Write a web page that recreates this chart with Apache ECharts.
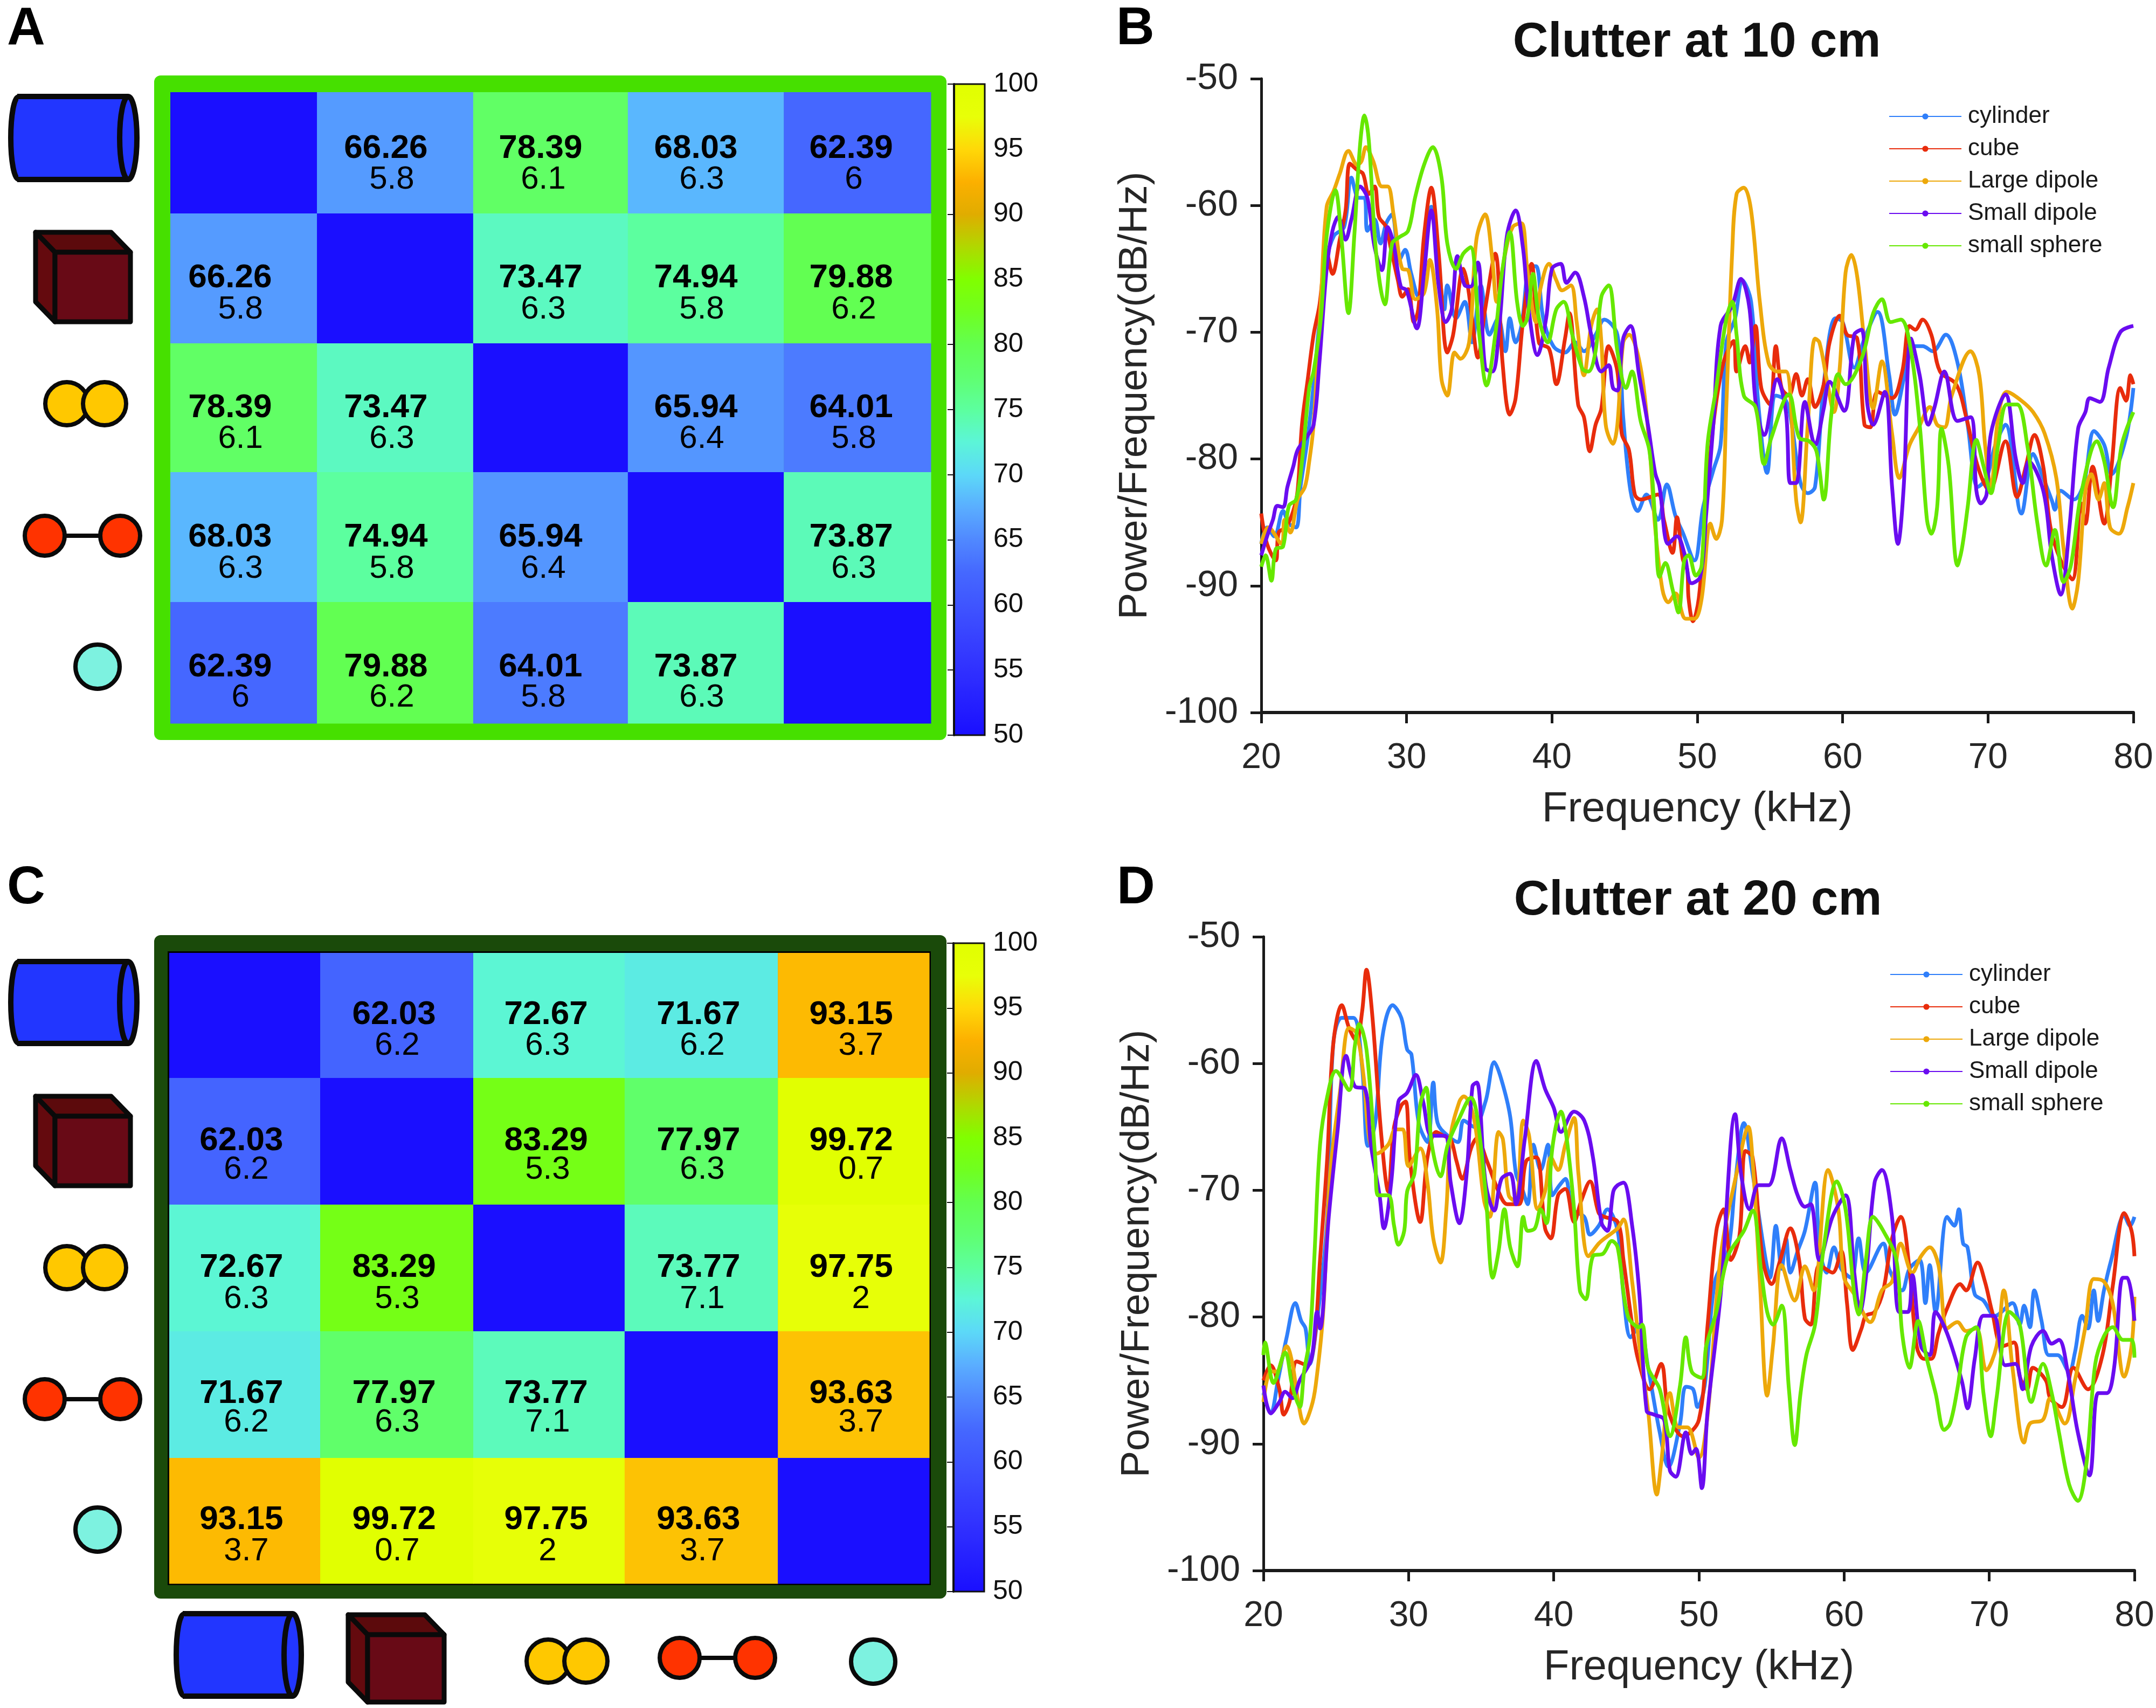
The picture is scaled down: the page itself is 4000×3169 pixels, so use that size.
<!DOCTYPE html>
<html>
<head>
<meta charset="utf-8">
<style>html,body{margin:0;padding:0;background:#fff}#chart{width:4000px;height:3169px}</style>
<script src="https://cdn.jsdelivr.net/npm/echarts@6/dist/echarts.min.js"></script>
</head>
<body>
<div id="chart"></div>
<script>
// ---------- data ----------
const seriesNames = ['cylinder','cube','Large dipole','Small dipole','small sphere'];
const seriesColors = ['#2f7ffa','#e82c0c','#eda80a','#6a0cf0','#66e800'];
const diagonalValue = 50;

const meanA = [
 [null,66.26,78.39,68.03,62.39],
 [66.26,null,73.47,74.94,79.88],
 [78.39,73.47,null,65.94,64.01],
 [68.03,74.94,65.94,null,73.87],
 [62.39,79.88,64.01,73.87,null]];
const sdA = [
 [null,5.8,6.1,6.3,6],
 [5.8,null,6.3,5.8,6.2],
 [6.1,6.3,null,6.4,5.8],
 [6.3,5.8,6.4,null,6.3],
 [6,6.2,5.8,6.3,null]];
const meanC = [
 [null,62.03,72.67,71.67,93.15],
 [62.03,null,83.29,77.97,99.72],
 [72.67,83.29,null,73.77,97.75],
 [71.67,77.97,73.77,null,93.63],
 [93.15,99.72,97.75,93.63,null]];
const sdC = [
 [null,6.2,6.3,6.2,3.7],
 [6.2,null,5.3,6.3,0.7],
 [6.3,5.3,null,7.1,2],
 [6.2,6.3,7.1,null,3.7],
 [3.7,0.7,2,3.7,null]];

const b_cylinder = [[20,-86.7],[20.4,-85.4],[20.9,-86.1],[21.5,-84.1],[21.9,-85.1],[22.4,-85.4],[22.7,-82.2],[23.2,-78.3],[23.6,-74.1],[24,-69.2],[24.5,-64.3],[25,-62.4],[25.7,-61.7],[26.2,-57.8],[26.7,-59.4],[27.1,-59.4],[27.3,-62],[27.8,-61.1],[28.2,-63],[28.6,-61.4],[29,-60.7],[29.5,-64.3],[29.9,-63.5],[30.3,-65.3],[30.8,-67.2],[31.2,-64.3],[31.7,-60.1],[32.2,-64.6],[32.6,-68.2],[32.8,-66.3],[33.4,-68.9],[34,-67.6],[34.5,-70.8],[35.1,-66.3],[35.7,-70.2],[36.3,-68.9],[36.8,-71.5],[37.1,-68.9],[37.5,-70.8],[37.9,-69.5],[38.5,-64.8],[38.9,-64.8],[39.4,-68.9],[40.1,-71.1],[40.9,-71.6],[41.6,-70.8],[42.2,-71.5],[43,-70.2],[43.6,-69],[44.5,-70.2],[44.9,-76.7],[45.4,-82.5],[45.9,-84.1],[46.5,-82.8],[47.3,-84.8],[47.9,-82],[48.5,-84.5],[49,-85.8],[49.8,-88],[50.4,-83.8],[51.1,-80.9],[51.6,-78.9],[52,-70.8],[52.6,-68.9],[53.1,-65.9],[53.7,-67.6],[54.2,-75.7],[54.8,-81.1],[55.4,-75],[56.1,-75.4],[56.5,-77.3],[57.1,-81.9],[57.6,-82.7],[58.1,-82.2],[58.7,-74.1],[59.5,-68.9],[60,-69.2],[60.8,-72.8],[61.5,-70.5],[62.4,-68.4],[63.2,-73.4],[63.6,-76.5],[64.2,-73.7],[64.7,-71.1],[65.5,-71.1],[66.2,-71.5],[67.1,-70.2],[67.9,-72.4],[68.6,-77.3],[69.3,-82.2],[69.9,-81.5],[70.5,-78.9],[71.2,-77.3],[72.3,-84.3],[73.1,-79.6],[73.7,-81.2],[74.4,-83.3],[74.6,-84],[75,-82.5],[75.9,-83.2],[76.6,-81.9],[77.3,-77.8],[78,-78.9],[78.5,-81.2],[79.5,-78.3],[80,-74.4]];
const b_cube = [[20,-84.3],[20.4,-86.7],[21,-88],[21.2,-85.8],[21.7,-85.4],[22.2,-84.1],[22.5,-82.5],[22.8,-77.3],[23.2,-73.7],[23.6,-70.2],[24,-67.9],[24.5,-63.7],[24.9,-65.4],[25.4,-62.7],[25.8,-60.4],[26.1,-56.7],[26.6,-57.2],[27,-57.5],[27.4,-59.1],[27.8,-58.5],[28.1,-60.9],[28.6,-61.7],[28.9,-63.3],[29.4,-65.9],[29.7,-67.2],[30.1,-66.6],[30.5,-69.2],[30.8,-68.2],[31.2,-62.4],[31.7,-58.6],[32.2,-63.7],[32.8,-71.6],[33.2,-70.2],[33.9,-65],[34.2,-66.3],[34.5,-68.9],[34.9,-72],[35.4,-68.2],[36.1,-63.8],[36.6,-72.4],[37.1,-76.5],[37.5,-75.2],[38,-69.2],[38.6,-64.6],[39.1,-70.8],[39.8,-71.3],[40.3,-74.1],[40.9,-70.5],[41.2,-68.5],[41.8,-75.7],[42.2,-76.7],[42.6,-79.4],[43,-77.3],[43.4,-76],[43.9,-71.1],[44.5,-73.1],[44.8,-78],[45.3,-79.3],[45.7,-82.8],[46.1,-83.2],[47.3,-82.8],[47.7,-84.8],[48.3,-87.4],[48.6,-84.6],[49,-87.9],[49.3,-88.7],[49.4,-91],[49.7,-92.8],[50.1,-91],[50.5,-85.4],[51.1,-77.3],[51.8,-72.4],[52.5,-70.7],[52.7,-73.1],[53.3,-71.1],[53.6,-72.4],[54,-69.5],[54.4,-74.4],[55,-75.7],[55.4,-71.1],[55.8,-74.4],[56.3,-75],[56.8,-73.3],[57.2,-75],[57.6,-73.7],[58.1,-75.9],[58.7,-74.1],[59.1,-70.8],[59.8,-68.7],[60.3,-70.2],[61,-70.5],[61.5,-77.3],[61.9,-77.5],[62.4,-74.7],[63.4,-75.2],[64.1,-73.1],[64.6,-69.5],[65,-69.8],[65.5,-69],[66.1,-70.2],[66.7,-73.1],[67.8,-74.1],[68.5,-76.7],[69.3,-80.6],[70.1,-82.5],[71.2,-78.6],[72,-83],[72.6,-80.6],[73.2,-78.1],[73.8,-80.6],[74.3,-85.4],[75,-88],[75.8,-89.5],[76.4,-83.5],[76.7,-85.1],[77.2,-80.6],[78,-85.1],[78.5,-80.6],[79.1,-74.4],[79.5,-75.4],[79.8,-73.4],[80,-74.1]];
const b_large = [[20,-86.7],[20.5,-85.4],[21.4,-86.7],[21.6,-84.8],[22,-85.8],[22.5,-83.2],[23,-82.2],[23.3,-80.2],[23.6,-77.3],[24.1,-67.6],[24.5,-60.1],[25,-58.8],[25.4,-57.5],[26,-55.7],[26.6,-56.8],[26.9,-56.5],[27.2,-55.4],[27.7,-56.5],[28.3,-58.5],[28.7,-58.5],[29.1,-60.7],[29.7,-65],[30.1,-65.1],[30.6,-67.4],[31.2,-66.9],[31.6,-64.3],[32.1,-68.2],[32.4,-73.7],[32.8,-75],[33.3,-71.6],[33.7,-72.1],[34.3,-70.8],[34.8,-62.7],[35.4,-60.7],[35.9,-64.3],[36.2,-67.6],[36.8,-63.7],[37.3,-61.7],[37.9,-61.4],[38.3,-65],[38.9,-69.2],[39.2,-66.6],[39.8,-64.6],[40.3,-65.9],[40.7,-66.7],[41.3,-66.3],[41.7,-69.2],[42.2,-73.4],[42.7,-69.5],[43.1,-68.2],[43.4,-70.8],[43.7,-77.3],[44.2,-78.8],[44.5,-77.3],[44.9,-70.8],[45.3,-70.2],[46.1,-72.8],[46.7,-78.9],[47.1,-85.4],[47.6,-90.3],[48,-91.3],[48.5,-90.6],[49.2,-92.6],[49.8,-92.6],[50.3,-91],[50.9,-85.1],[51.3,-86.3],[51.7,-84.8],[52,-75.7],[52.4,-63.7],[52.7,-59.1],[53.2,-58.6],[53.7,-60.4],[54.3,-67.6],[54.9,-72.4],[55.5,-73.1],[56.1,-73.1],[56.8,-83.2],[57.1,-85],[57.6,-77.3],[58.1,-70.5],[58.4,-70.8],[58.9,-73.7],[59.4,-76.3],[59.8,-72.8],[60.2,-65.3],[60.6,-63.9],[61,-65.6],[61.5,-70.8],[62.1,-76],[62.7,-72.3],[63.4,-78],[63.9,-81.5],[64.6,-78.9],[65.2,-77.6],[66,-75.9],[66.5,-77.3],[67,-77.5],[67.5,-75],[68.8,-71.5],[69.4,-73.4],[69.8,-78.9],[70.2,-82.2],[70.7,-76.7],[71.3,-74.7],[72.3,-75.4],[73.1,-76.3],[73.9,-78],[74.7,-81.5],[75.2,-87.1],[75.8,-91.8],[76.2,-89.7],[76.7,-82.5],[77.1,-81.2],[77.6,-83.2],[78,-81.9],[78.4,-85.4],[79,-85.9],[79.6,-83.8],[80,-81.9]];
const b_small = [[20,-87.6],[20.4,-86.1],[20.8,-84.8],[21.1,-83.7],[21.5,-83.8],[21.8,-82.2],[22.2,-80.6],[22.5,-79.3],[23.1,-78.3],[23.6,-77.3],[24,-72.4],[24.5,-65],[24.9,-62],[25.3,-60.9],[25.8,-62.7],[26.2,-61.1],[26.8,-58.5],[27.3,-59.4],[27.8,-63.3],[28.3,-65.1],[28.7,-61.7],[29.1,-63],[29.6,-66.4],[30,-66.7],[30.7,-69.7],[31.2,-65.3],[31.7,-60.4],[32.2,-66.3],[32.7,-69.2],[33.1,-68.2],[33.5,-64],[34,-66.3],[34.4,-66.4],[34.9,-64.5],[35.4,-72.8],[35.9,-73.1],[36.4,-69.2],[36.9,-62.4],[37.5,-60.4],[38,-63.3],[38.4,-68.2],[39,-71.8],[39.6,-68.9],[40,-65],[40.6,-64.6],[41,-66.1],[41.6,-65.3],[42.2,-67.2],[42.7,-70.2],[43.4,-73.1],[43.9,-72.6],[44.2,-74.4],[44.5,-74.6],[44.9,-70.5],[45.4,-69.5],[46,-73.4],[46.6,-77.3],[47.1,-81.1],[47.4,-82.2],[48,-86.7],[48.6,-86.1],[49.1,-87.4],[49.6,-89.8],[50.2,-89.3],[50.6,-84.5],[51.1,-77.3],[51.6,-69.5],[52.4,-67.9],[53,-65.8],[53.6,-68.2],[54,-75.4],[54.6,-78.1],[55.5,-73.7],[56.1,-76.3],[56.4,-81.9],[56.8,-81.9],[57.4,-75.5],[58.1,-78.9],[58.7,-76],[59.1,-73.9],[60.1,-76.2],[60.8,-70.2],[61.3,-69.8],[61.7,-75.7],[62.1,-77.3],[62.9,-74.7],[63.4,-82.2],[63.8,-86.7],[64.2,-82.2],[64.7,-70.5],[65.3,-73.4],[65.9,-77.3],[66.3,-76],[67,-73.1],[67.9,-77],[68.8,-76.7],[69.2,-82.5],[69.5,-83.5],[69.9,-82.8],[70.2,-78],[71.2,-74.9],[71.9,-79.9],[72.4,-81.9],[72.8,-80.2],[73.8,-82.5],[74.4,-87.7],[75,-90.7],[75.6,-85.4],[76.2,-77.6],[76.7,-76.3],[77,-75.2],[77.7,-75.5],[78.3,-72.8],[79.1,-70],[80,-69.5]];
const b_sphere = [[20,-88.5],[20.3,-87.6],[20.7,-89.6],[21,-87.1],[21.5,-86.9],[21.9,-83.7],[22.4,-83.2],[22.8,-80.2],[23.3,-74.4],[23.6,-73.1],[24.1,-68.9],[24.5,-62.4],[25.1,-58.8],[25.5,-62.4],[26,-68.5],[26.4,-62.4],[26.8,-55.2],[27.1,-52.9],[27.4,-54.9],[27.9,-63.7],[28.5,-67.8],[29,-63],[29.5,-62.5],[30.1,-62],[30.6,-59.3],[31.2,-56.8],[31.8,-55.4],[32.4,-57.8],[32.8,-63],[33.4,-65],[33.9,-63.8],[34.4,-63.3],[35,-70.2],[35.5,-74.2],[36.1,-70.2],[36.6,-65],[37.1,-62.1],[37.6,-67.6],[38,-69.5],[38.3,-68.9],[38.7,-65.4],[39.1,-68.9],[39.7,-70.8],[40.3,-68.2],[40.8,-67.6],[41.4,-70.2],[42.1,-72.9],[42.5,-73.1],[43,-71.5],[43.4,-67.2],[43.9,-66.3],[44.5,-71.5],[45.1,-74.4],[45.5,-73.1],[46.1,-77],[46.7,-79.3],[47.1,-84.8],[47.4,-89.3],[47.8,-88.2],[48.3,-90.3],[48.7,-92.1],[49.1,-88],[49.4,-87.6],[49.9,-89.2],[50.3,-88.4],[50.7,-78.9],[51.3,-74.4],[52,-68.9],[52.4,-67.6],[52.7,-70.2],[53.2,-75],[54,-75.9],[54.6,-80.4],[55.1,-78.3],[56.3,-74.9],[57,-78.3],[57.7,-78.6],[58.2,-79.4],[58.7,-83.2],[59.2,-76.7],[59.7,-73.3],[60.2,-74.1],[61.3,-72.1],[62.1,-68.5],[62.7,-67.4],[63.3,-69.2],[64,-69],[64.6,-70.8],[65.3,-77.3],[65.8,-84.8],[66.1,-85.9],[66.5,-83.8],[66.8,-77.6],[67.3,-80.6],[67.9,-88.4],[68.2,-87.1],[68.6,-83.8],[69.2,-78.5],[69.7,-80.6],[70.2,-82.7],[70.7,-78.9],[71.3,-75.7],[72,-75.7],[72.7,-78.9],[73.4,-85.1],[74,-88.4],[74.6,-85.6],[75.2,-89.7],[75.7,-88.4],[76.4,-82.8],[77.5,-78.6],[78,-80.2],[78.6,-83.8],[79.2,-78.9],[80,-76.3]];

const d_cylinder = [[20,-86],[20.5,-87.6],[21,-85],[21.6,-81.6],[22.2,-78.9],[22.6,-80.3],[22.9,-80.9],[23.2,-83.7],[23.7,-80.3],[24.4,-72.1],[24.8,-58.6],[25.4,-56.4],[26.2,-56.4],[26.8,-60.3],[27.2,-66.5],[27.7,-64.7],[28.2,-57.9],[28.9,-55.4],[29.5,-56.4],[29.9,-58.9],[30.2,-59.3],[30.7,-64.7],[31.3,-66.2],[31.7,-61.5],[32,-64.7],[32.7,-65.7],[33.4,-66.2],[33.8,-64.5],[34.5,-65],[35.3,-63],[35.9,-59.9],[36.4,-61.3],[37,-64.2],[37.4,-68.7],[37.8,-69.8],[38.2,-71.1],[38.6,-66.4],[39.1,-68.4],[39.6,-66.4],[39.9,-70.4],[40.4,-69.6],[40.8,-69.1],[41.3,-71.5],[42.1,-72.1],[42.5,-73.5],[43.1,-72.8],[43.7,-71.5],[44.4,-73.2],[44.8,-78.2],[45.3,-81.6],[45.9,-80.6],[46.5,-84],[47.3,-89.1],[47.9,-91.8],[48.7,-88.4],[49.1,-85.5],[49.6,-85.7],[49.9,-87.1],[50.4,-85.4],[51.1,-77.2],[52,-74.8],[52.5,-69.4],[53.1,-64.7],[53.7,-68.7],[54.6,-75.5],[54.9,-76.9],[55.3,-72.8],[55.7,-76.2],[56,-73.8],[56.3,-76.5],[56.8,-74.8],[57.3,-73.2],[58,-69.4],[58.3,-74.5],[58.8,-76.5],[59.3,-74.5],[59.8,-76.2],[60.5,-76.9],[61,-73.8],[61.5,-76.5],[62.7,-74.2],[63.1,-76.2],[64,-77.9],[64.5,-76.2],[65.2,-75.5],[65.6,-78.9],[65.9,-75.9],[66.3,-79.6],[67.1,-72.1],[67.6,-72.8],[67.9,-71.5],[68.2,-74.2],[68.5,-74.5],[69,-78.2],[69.6,-78.7],[70.4,-79.9],[71.6,-78.9],[72.1,-80.6],[72.4,-79.1],[72.8,-80.8],[73.1,-77.9],[73.6,-80.3],[74.1,-83],[74.7,-83],[75.5,-84.3],[75.9,-82.8],[76.4,-79.9],[76.8,-80.9],[77.2,-77.9],[77.5,-80.3],[77.9,-77.9],[78.4,-75.5],[79.3,-72],[79.7,-72.8],[80,-72.1]];
const d_cube = [[20,-85],[20.5,-83.8],[21.1,-85.7],[21.4,-87.7],[21.8,-86.7],[22.3,-83.5],[23,-83.8],[23.5,-82],[23.9,-75.5],[24.4,-67.4],[24.8,-58.6],[25.4,-55.4],[25.9,-57.2],[26.4,-58.2],[26.8,-55.9],[27.1,-52.6],[27.5,-56.2],[28.1,-65.4],[28.6,-70.1],[29,-65],[29.5,-63.3],[29.8,-63],[30.1,-67.7],[30.8,-72.5],[31.3,-67.4],[31.9,-65.4],[32.4,-65.7],[32.9,-66],[33.3,-67.7],[33.7,-69.1],[34.3,-66.7],[34.7,-65.9],[35.4,-67.7],[36.2,-70.1],[36.8,-71.1],[37.6,-71.1],[38.1,-67.7],[38.8,-67.4],[39.4,-73],[39.8,-73.8],[40.3,-70.4],[40.8,-69.9],[41.4,-72.5],[41.9,-70.8],[42.5,-69.3],[43.1,-71.8],[43.5,-72.1],[44.4,-72.5],[44.8,-75.5],[45.4,-80.6],[45.8,-83.3],[46.6,-85.7],[47.4,-83.7],[47.9,-87.4],[48.9,-89.4],[50,-88.1],[50.6,-80.6],[51.2,-73.2],[51.7,-71.5],[52.2,-75.5],[52.8,-73.5],[53.2,-66.9],[53.7,-67.4],[54.4,-75.5],[55,-77.4],[55.6,-75.5],[56.3,-73],[56.9,-75.5],[57.3,-80.1],[57.7,-80.6],[58.3,-75.9],[59.2,-76.5],[59.8,-74.8],[60.2,-78.9],[60.6,-82.6],[61.2,-80.9],[61.5,-79.9],[62.1,-79.6],[62.7,-77.9],[63.3,-73.8],[63.9,-72.1],[64.5,-76.2],[65,-82.3],[65.5,-83.3],[66,-83.3],[66.5,-81.3],[67.1,-79.3],[68,-77.4],[68.4,-77.9],[69.2,-75.7],[69.7,-77.2],[70.2,-79.6],[70.9,-82.3],[71.7,-82],[72.1,-84.7],[72.6,-85.7],[73,-84],[73.9,-85],[74.2,-86.4],[75,-87.1],[75.8,-84],[76.8,-85.7],[77.8,-83],[78.5,-77.6],[79.3,-71.8],[79.8,-73.2],[80,-75.2]];
const d_large = [[20,-86.7],[20.5,-84.3],[20.9,-84.3],[21.6,-82.3],[22,-83.7],[22.4,-86.7],[22.8,-88.4],[23.3,-87.1],[23.6,-85.4],[24.1,-79.9],[24.6,-68.7],[25.3,-62],[25.9,-57.2],[26.4,-57.6],[26.9,-61],[27.3,-66],[27.8,-67.1],[28.6,-66.4],[29.1,-65.2],[29.6,-65.2],[30,-68.1],[30.8,-66.7],[31.3,-69.4],[31.7,-73.8],[32.2,-75.7],[32.6,-71.5],[32.9,-65.7],[33.5,-63],[33.8,-62.6],[34.5,-64.3],[35.2,-70.8],[35.6,-72.1],[36.2,-65.4],[36.5,-66],[36.9,-70.4],[37.4,-70.9],[37.9,-64.5],[38.3,-65.7],[38.9,-71.5],[39.4,-70.1],[39.8,-67.4],[40.3,-68.4],[40.8,-66.4],[41.4,-64.3],[41.7,-68.7],[42.4,-75.2],[43.1,-74.2],[43.5,-73.8],[44.4,-73],[44.8,-72.3],[45.4,-77.2],[45.9,-82.3],[46.5,-87.4],[47.1,-94],[47.4,-91.5],[48,-86],[48.6,-88.7],[49.2,-88.7],[50,-91.1],[50.6,-87.7],[51.5,-75.2],[52.7,-68.1],[53.4,-65],[53.7,-67.7],[54.2,-77.2],[54.7,-86.2],[55.1,-82.3],[55.7,-75.9],[56.6,-78.7],[57.3,-76],[57.9,-77.9],[58.9,-68.4],[59.6,-71.5],[60,-76.9],[60.7,-78.2],[61.8,-80.4],[62.6,-77.9],[63.3,-77.2],[63.9,-74.2],[64.7,-76.5],[65.3,-75.2],[65.9,-74.5],[66.5,-75.9],[67.1,-80.9],[67.8,-80.4],[68.4,-81.1],[69.1,-80.9],[69.8,-84.2],[70.5,-82.3],[71,-77.9],[71.6,-84],[72.4,-89.9],[72.8,-88.4],[73.7,-88.1],[74.2,-86.4],[75.2,-88.4],[75.9,-85],[76.6,-80.9],[77.2,-77],[77.9,-77.2],[78.5,-78.9],[79.3,-84.7],[79.8,-82.3],[80,-78.4]];
const d_small = [[20,-85.4],[20.5,-87.6],[21.1,-86.7],[21.5,-85.9],[22,-86.4],[22.5,-85],[23.3,-83.3],[23.7,-79.6],[23.9,-80.9],[24.5,-72.1],[25.1,-65.4],[25.7,-59.4],[26.3,-61.8],[27,-62],[27.4,-66.4],[28,-70.4],[28.3,-73],[28.8,-69.4],[29.3,-63],[29.9,-62.3],[30.5,-60.9],[31,-63],[31.6,-65.7],[32.5,-65.7],[32.9,-69.4],[33.5,-72.6],[34,-68.7],[34.4,-61.8],[34.7,-61.5],[35.3,-69.4],[35.9,-71.6],[36.4,-69.1],[37,-68.7],[37.4,-71.1],[38,-66],[38.8,-59.8],[39.4,-62],[40,-63.5],[40.5,-65.4],[41.4,-63.8],[42.1,-64.5],[42.7,-67.4],[43.3,-72.6],[43.7,-73.2],[44.1,-70.1],[44.4,-69.6],[44.8,-69.4],[45.4,-72.8],[45.9,-78.2],[46.4,-87.4],[46.9,-87.7],[47.6,-88.1],[48,-92.1],[48.4,-92.6],[49.1,-89.1],[49.5,-90.8],[49.8,-90.4],[50.2,-93.5],[50.6,-87.4],[51.5,-78.2],[52.5,-64],[52.9,-68.7],[53.5,-71.5],[54.1,-69.6],[54.8,-69.6],[55.7,-65.9],[56.3,-68.4],[56.8,-70.4],[57.3,-71.3],[57.7,-71.1],[58.3,-75.5],[59.2,-72.1],[60.1,-70.4],[60.7,-76.5],[61.1,-79.6],[61.5,-76.9],[62.1,-69.4],[62.6,-68.4],[63.3,-72.1],[63.8,-79.6],[64.4,-79.6],[64.7,-76.7],[65.3,-82.3],[65.9,-83],[66.3,-79.6],[67.1,-81.3],[68.1,-85],[68.5,-87.2],[69,-83.3],[69.6,-79.9],[70.3,-79.9],[71.1,-83.8],[71.8,-83.7],[72.3,-85.7],[72.9,-82.3],[73.7,-81.1],[74.3,-82.1],[74.8,-81.8],[75.4,-84.3],[76.1,-89.1],[76.9,-92.5],[77.5,-86],[78.1,-86],[78.6,-84],[79.2,-76.9],[79.5,-76.9],[80,-80.3]];
const d_sphere = [[20,-83],[20.1,-82],[20.7,-85.2],[21.5,-82.8],[22,-85.5],[22.5,-87.1],[22.8,-84.3],[23.2,-81.6],[23.5,-75.5],[23.9,-66.4],[24.4,-62.6],[25,-60.6],[25.9,-62.1],[26.3,-58.6],[26.6,-56.9],[27.1,-58.9],[27.7,-67.4],[27.9,-70.4],[28.6,-70.4],[29,-72.8],[29.3,-74.3],[29.7,-73.2],[29.9,-70.1],[30.4,-68.7],[30.8,-63.3],[31.2,-61.9],[31.6,-66.4],[32.2,-68.9],[32.7,-66.4],[33.5,-64.3],[34.3,-62.7],[34.7,-64],[35.3,-70.1],[35.8,-76.9],[36.2,-74.8],[36.6,-71.5],[37,-74.5],[37.5,-76],[37.9,-72.1],[38.2,-73.2],[38.7,-73],[39.1,-71.5],[39.5,-72.6],[39.9,-66.7],[40.5,-63.8],[40.9,-66],[41.4,-71.5],[41.8,-77.9],[42.2,-78.6],[42.7,-75.2],[43.4,-75],[44,-74],[44.4,-74.5],[45.1,-79.9],[45.9,-80.8],[46.1,-80.6],[46.5,-84],[47.3,-85.7],[48,-89.4],[48.7,-85.4],[49.1,-81.6],[49.5,-84.3],[50.2,-84.8],[50.5,-82.3],[51.2,-79.6],[52,-75.2],[53.1,-73.2],[53.7,-71.6],[54.3,-76.5],[54.7,-79.6],[55.1,-80.6],[55.7,-79.1],[56.2,-85.7],[56.6,-90.1],[57,-86],[57.4,-83],[58,-80.6],[58.6,-74.5],[59.5,-69.3],[60.1,-71.5],[60.7,-78.2],[61,-79.8],[61.5,-75.5],[62,-72.1],[62.7,-73.2],[63.6,-75.5],[64,-81.3],[64.5,-84],[65.1,-80.3],[65.7,-83.3],[66.3,-86],[66.9,-88.9],[67.3,-88.4],[67.8,-85.7],[68.4,-81.6],[69.1,-80.8],[69.6,-86],[70.1,-89.4],[70.5,-86.4],[71.4,-79.6],[72.1,-80.6],[72.9,-86.7],[73.7,-83.7],[74.3,-86],[74.8,-89.1],[75.5,-93.2],[76.1,-94.5],[76.7,-91.5],[77.3,-83.7],[77.9,-81.5],[78.5,-80.8],[79.2,-81.8],[79.8,-81.8],[80,-83.2]];

const colormap = ['#1a0fff','#2520ff','#3030ff','#3842ff','#3f55ff','#4568ff','#5088ff','#5aaeff','#5cd8f8','#5cf5d8','#5cff9e','#60ff70','#62ff50','#70ff20','#80ff00','#b0d800','#e0ac00','#fcb000','#ffd808','#e8ff08','#e0ff00'];

// ---------- layout (not data) ----------
const layoutA = {
  colEdges:[0,0.964,1.991,3.008,4.033,5], rowEdges:[0,0.961,1.990,3.010,4.039,5],
  boldX:[0.393,1.417,2.434,3.455,4.476], sdX:[0.461,1.456,2.452,3.494,4.493],
  boldY:[0.448,1.473,2.502,3.527,4.556], sdY:[0.692,1.721,2.746,3.775,4.799]
};
const layoutC = {
  colEdges:[0,0.993,2.0,2.996,4.004,5], rowEdges:[0,0.991,1.996,3.0,4.004,5],
  boldX:[0.475,1.479,2.479,3.482,4.486], sdX:[0.507,1.5,2.489,3.507,4.55],
  boldY:[0.491,1.491,2.496,3.496,4.496], sdY:[0.739,1.718,2.744,3.726,4.744]
};
const FONT = '"Liberation Sans", Arial, sans-serif';
const TXT = '#262626';

function cells(mean, sd){
  const out = [];
  mean.forEach((row,r)=>row.forEach((m,c)=>{
    out.push([c, r, m===null?diagonalValue:m, m===null?'':String(m), sd[r][c]===null?'':String(sd[r][c])]);
  }));
  return out;
}
function heatSeries(idx, mean, sd, L){
  return {
    type:'custom', xAxisIndex:idx, yAxisIndex:idx, coordinateSystem:'cartesian2d', z:3, silent:true,
    encode:{x:0,y:1}, data:cells(mean,sd),
    renderItem(params, api){
      const c=api.value(0), r=api.value(1);
      const p0=api.coord([L.colEdges[c],L.rowEdges[r]]), p1=api.coord([L.colEdges[c+1],L.rowEdges[r+1]]);
      const kids=[{type:'rect',shape:{x:p0[0],y:p0[1],width:p1[0]-p0[0]+0.5,height:p1[1]-p0[1]+0.5},style:{fill:api.visual('color')}}];
      const mt=api.value(3), st=api.value(4);
      if(mt){
        const b=api.coord([L.boldX[c],L.boldY[r]]), s=api.coord([L.sdX[c],L.sdY[r]]);
        kids.push({type:'text',z2:5,style:{text:String(mt),x:b[0],y:b[1],align:'center',verticalAlign:'middle',textAlign:'center',textVerticalAlign:'middle',font:'bold 62px '+FONT,fill:'#000'}});
        kids.push({type:'text',z2:5,style:{text:String(st),x:s[0],y:s[1],align:'center',verticalAlign:'middle',textAlign:'center',textVerticalAlign:'middle',font:'60px '+FONT,fill:'#000'}});
      }
      return {type:'group',children:kids};
    },
    dimensions:['c','r','v',{name:'m',type:'ordinal'},{name:'s',type:'ordinal'}]
  };
}
function lineSeries(idx, name, color, data){
  return {type:'line', name, xAxisIndex:idx, yAxisIndex:idx, data, showSymbol:false, symbol:'none', smooth:0.35, silent:true,
    z:4, clip:false, lineStyle:{color,width:7,join:'round'}, itemStyle:{color}};
}
function heatAxes(){
  return {x:{type:'value',min:0,max:5,show:false}, y:{type:'value',min:0,max:5,inverse:true,show:false}};
}
function lineAxes(){
  const line={lineStyle:{color:'#1a1a1a',width:6}};
  const tick={show:true,inside:false,length:20,lineStyle:{color:'#1a1a1a',width:5}};
  return {
    x:{type:'value',min:20,max:80,interval:10,name:'Frequency (kHz)',nameLocation:'middle',nameGap:141,
       nameTextStyle:{fontSize:78,fontFamily:FONT,color:TXT},axisLine:{show:true,...line},axisTick:tick,splitLine:{show:false},
       axisLabel:{fontSize:66,fontFamily:FONT,color:TXT,margin:52,showMinLabel:true,showMaxLabel:true,hideOverlap:false}},
    y:{type:'value',min:-100,max:-50,interval:10,name:'Power/Frequency(dB/Hz)',nameLocation:'middle',nameGap:196,
       nameTextStyle:{fontSize:74,fontFamily:FONT,color:TXT},axisLine:{show:true,lineStyle:{color:'#1a1a1a',width:5}},axisTick:tick,splitLine:{show:false},
       axisLabel:{fontSize:68,fontFamily:FONT,color:TXT,margin:43,showMinLabel:true,showMaxLabel:true,hideOverlap:false}}
  };
}
function barAxes(){
  return {
    x:{type:'value',min:0,max:1,show:false},
    y:{type:'value',min:50,max:100,interval:5,position:'right',z:8,splitLine:{show:false},
       axisLine:{show:true,lineStyle:{color:'#111',width:4}},
       axisTick:{show:true,inside:true,length:12,lineStyle:{color:'#111',width:2}},
       axisLabel:{fontSize:50,fontFamily:FONT,color:'#111',margin:16,showMinLabel:true,showMaxLabel:true,hideOverlap:false}}
  };
}
const axesList=[heatAxes(),heatAxes(),lineAxes(),lineAxes(),barAxes(),barAxes()];

// ---------- icons ----------
const K='#0a0a0a';
function cylinder(x,y,w,h){
  const sw=10, z=10;
  return [
    {type:'ellipse',z,shape:{cx:x+16,cy:y+h/2,rx:14,ry:h/2-1},style:{fill:'#2236ff',stroke:K,lineWidth:sw}},
    {type:'rect',z:z+1,shape:{x:x+16,y:y,width:w-36,height:h},style:{fill:'#2236ff'}},
    {type:'line',z:z+2,shape:{x1:x+14,y1:y,x2:x+w-20,y2:y},style:{stroke:K,lineWidth:sw}},
    {type:'line',z:z+2,shape:{x1:x+14,y1:y+h,x2:x+w-20,y2:y+h},style:{stroke:K,lineWidth:sw}},
    {type:'ellipse',z:z+3,shape:{cx:x+w-20,cy:y+h/2,rx:16,ry:h/2},style:{fill:'#2236ff',stroke:K,lineWidth:sw}}
  ];
}
function cube(x,y,w,h,dx,dy){
  const z=10, sw=9;
  const st=f=>({fill:f,stroke:K,lineWidth:sw,lineJoin:'round'});
  return [
    {type:'polygon',z,shape:{points:[[x,y],[x+w-dx,y],[x+w,y+dy],[x+dx,y+dy]]},style:st('#5c0a0c')},
    {type:'polygon',z,shape:{points:[[x,y],[x+dx,y+dy],[x+dx,y+h],[x,y+h-dy]]},style:st('#640a0e')},
    {type:'rect',z:z+1,shape:{x:x+dx,y:y+dy,width:w-dx,height:h-dy},style:st('#680a16')}
  ];
}
function circle(cx,cy,r,fill){
  return {type:'circle',z:10,shape:{cx,cy,r},style:{fill,stroke:K,lineWidth:8}};
}
function dipole(x1,x2,y){ return [circle(x1,y,40,'#ffc800'),{...circle(x2,y,40,'#ffc800'),z:11}]; }
function dumbbell(x1,x2,y){
  return [{type:'line',z:9,shape:{x1,y1:y,x2,y2:y},style:{stroke:K,lineWidth:8}},circle(x1,y,37,'#ff3300'),circle(x2,y,37,'#ff3300')];
}
function sphere(cx,cy){ return circle(cx,cy,41,'#7df2e0'); }

const graphics=[
  {type:'rect',z:0,shape:{x:286,y:140,width:1470,height:1233,r:12},style:{fill:'#46e000'}},
  {type:'rect',z:0,shape:{x:286,y:1735,width:1470,height:1231,r:12},style:{fill:'#1a4a0a'}},
  {type:'rect',z:1,shape:{x:311,y:1765,width:1416,height:1176},style:{fill:'#000'}},
  {type:'rect',z:9,shape:{x:1770,y:156,width:57,height:1208},style:{fill:'none',stroke:'#111',lineWidth:3}},
  {type:'rect',z:9,shape:{x:1769,y:1750,width:57,height:1203},style:{fill:'none',stroke:'#111',lineWidth:3}},
  ...cylinder(18,179,240,154), ...cube(66,431,176,166,36,37), ...dipole(124,194,749), ...dumbbell(83,223,994), sphere(181,1237),
  ...cylinder(18,1784,240,152), ...cube(66,2034,176,166,36,37), ...dipole(124,194,2352), ...dumbbell(83,223,2596), sphere(181,2838),
  ...cylinder(325,2994,238,153), ...cube(646,2996,178,162,36,37), ...dipole(1017,1087,3082), ...dumbbell(1261,1401,3076), sphere(1620,3083)
];

const letter=(t,x,y)=>({text:t,left:x,top:y,textStyle:{fontSize:98,fontWeight:'bold',fontFamily:FONT,color:'#000',lineHeight:98},padding:0});
const heading=(t,x,y)=>({text:t,left:x,top:y,textAlign:'center',textStyle:{fontSize:91,fontWeight:'bold',fontFamily:FONT,color:'#111',lineHeight:91},padding:0});
const legendOf=(left,top)=>({
  show:true,data:seriesNames,orient:'vertical',left,top,padding:0,itemWidth:134,itemHeight:14,itemGap:16,
  selectedMode:false,textStyle:{fontSize:44,fontFamily:FONT,color:'#1a1a1a',padding:[0,0,0,7],lineHeight:44}
});
const vm=(seriesIndex,left,top,h)=>({
  type:'continuous',min:50,max:100,dimension:2,seriesIndex,show:true,calculable:false,realtime:false,
  left,top,itemWidth:57,itemHeight:h,padding:0,z:2,inRange:{color:colormap},text:null,hoverLink:false
});

const B=[b_cylinder,b_cube,b_large,b_small,b_sphere], D=[d_cylinder,d_cube,d_large,d_small,d_sphere];

const chart=echarts.init(document.getElementById('chart'),null,{renderer:'canvas',width:4000,height:3169});
chart.setOption({
  backgroundColor:'#fff',animation:false,tooltip:{show:false},
  title:[letter('A',13,6),letter('B',2071,6),letter('C',13,1600),letter('D',2072,1600),heading('Clutter at 10 cm',3148,34),heading('Clutter at 20 cm',3150,1626)],
  grid:[
    {left:316,top:171,width:1411,height:1171,containLabel:false},
    {left:314,top:1768,width:1410,height:1170},
    {left:2340,top:146,width:1618,height:1176},
    {left:2344,top:1738,width:1616,height:1176},
    {left:1770,top:156,width:57,height:1208},
    {left:1769,top:1750,width:57,height:1203}
  ],
  xAxis:axesList.map((a,i)=>({...a.x,gridIndex:i})),
  yAxis:axesList.map((a,i)=>({...a.y,gridIndex:i})),
  visualMap:[vm(0,1770,156,1208),vm(1,1769,1750,1203)],
  legend:[legendOf(3504,194),legendOf(3506,1786)],
  series:[
    heatSeries(0,meanA,sdA,layoutA),
    heatSeries(1,meanC,sdC,layoutC),
    ...B.map((d,i)=>lineSeries(2,seriesNames[i],seriesColors[i],d)),
    ...D.map((d,i)=>lineSeries(3,seriesNames[i],seriesColors[i],d))
  ],
  graphic:{elements:graphics}
});
</script>
</body>
</html>
